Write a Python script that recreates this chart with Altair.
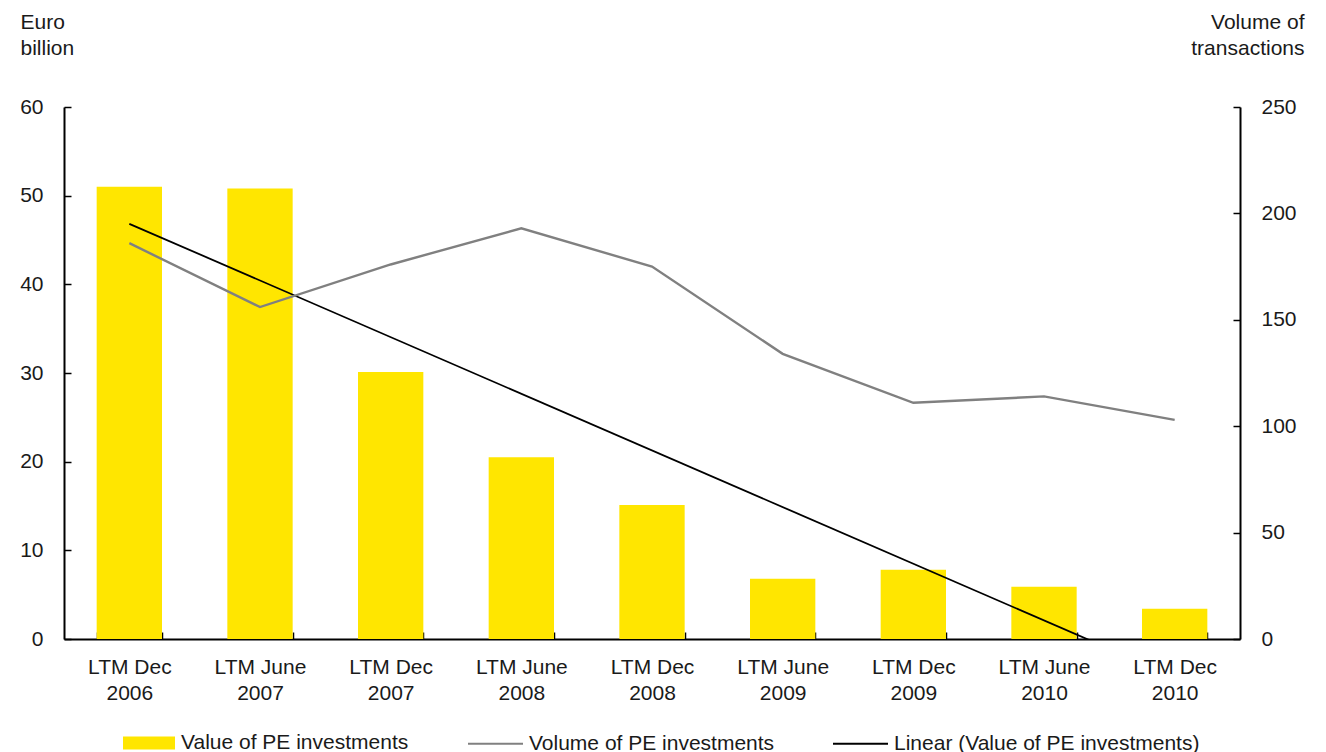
import altair as alt
import pandas as pd

# Reporting periods (last twelve months) and the two series
periods = [
    "LTM Dec 2006", "LTM June 2007", "LTM Dec 2007", "LTM June 2008",
    "LTM Dec 2008", "LTM June 2009", "LTM Dec 2009", "LTM June 2010",
    "LTM Dec 2010",
]
pe_value = [51.0, 50.8, 30.1, 20.5, 15.1, 6.8, 7.8, 5.9, 3.4]      # Euro billion
pe_volume = [186, 156, 176, 193, 175, 134, 111, 114, 103]          # transactions

bar_name = "Value of PE investments"
vol_name = "Volume of PE investments"
trend_name = "Linear (Value of PE investments)"

df = pd.DataFrame({
    "period": periods,
    "idx": list(range(len(periods))),
    "value": pe_value,
    "volume": pe_volume,
})

FONT = "Liberation Sans"
FS = 21
INK = "#1a1a1a"
W, H = 1176, 532
YELLOW = "#FFE600"
GREY = "#808080"

base = alt.Chart(df)
inward = alt.ExprRef(expr="-7")

# Columns: value of investments on the left axis
bars = base.transform_calculate(series=f"'{bar_name}'").mark_bar().encode(
    x=alt.X(
        "period:N", sort=periods,
        scale=alt.Scale(paddingInner=0.5, paddingOuter=0.25),
        axis=alt.Axis(
            title=None, labelAngle=0, tickBand="extent", tickSize=inward,
            labelExpr="[slice(datum.label, 0, -5), slice(datum.label, -4)]",
            labelLineHeight=26, labelPadding=24, labelBaseline="top",
        ),
    ),
    y=alt.Y(
        "value:Q", scale=alt.Scale(domain=[0, 60]),
        axis=alt.Axis(
            values=[0, 10, 20, 30, 40, 50, 60], tickSize=inward,
            labelPadding=28, grid=False,
            title=["Euro", "billion"], titleAngle=0, titleAlign="left",
            titleBaseline="top", titleX=-44, titleY=-96, titleLineHeight=26,
        ),
    ),
    fill=alt.Fill(
        "series:N",
        scale=alt.Scale(domain=[bar_name], range=[YELLOW]),
        legend=alt.Legend(
            title=None, orient="none", legendX=59, legendY=610,
            symbolType="M-1,-0.25H1V0.25H-1Z", symbolSize=2704,
            symbolStrokeWidth=0, symbolOpacity=1, labelOffset=6,
            labelLimit=400,
        ),
    ),
)

line_stroke = alt.Stroke(
    "series:N",
    scale=alt.Scale(domain=[vol_name, trend_name], range=[GREY, "#000000"]),
    legend=alt.Legend(
        title=None, orient="none", direction="horizontal",
        legendX=403, legendY=608, symbolType="stroke", symbolSize=3025,
        symbolStrokeWidth=2, labelOffset=5, columnPadding=54,
        labelLimit=500,
    ),
)
x_idx = alt.X("idx:Q", scale=alt.Scale(domain=[-0.5, 8.5], nice=False, zero=False), axis=None)

# Least-squares trend of the investment value, clipped at the axis floor
trend = (
    base.transform_regression("idx", "value", extent=[0, 8])
    .transform_calculate(series=f"'{trend_name}'")
    .mark_line(clip=True, strokeWidth=1.8)
    .encode(
        x=x_idx,
        y=alt.Y("value:Q", scale=alt.Scale(domain=[0, 60]), axis=None),
        stroke=line_stroke,
    )
)

# Number of transactions on the right axis
volume = (
    base.transform_calculate(series=f"'{vol_name}'")
    .mark_line(strokeWidth=2.4)
    .encode(
        x=x_idx,
        y=alt.Y(
            "volume:Q", scale=alt.Scale(domain=[0, 250]),
            axis=alt.Axis(
                orient="right", values=[0, 50, 100, 150, 200, 250],
                tickSize=inward, labelPadding=28, grid=False,
                title=["Volume of", "transactions"], titleAngle=0,
                titleAlign="right", titleBaseline="top", titleX=64,
                titleY=-96, titleLineHeight=26,
            ),
        ),
        stroke=line_stroke,
    )
)

chart = (
    alt.layer(bars, trend, volume)
    .resolve_scale(x="independent", y="independent")
    .properties(
        width=W, height=H,
        autosize=alt.AutoSizeParams(type="none"),
        padding={"left": 64, "top": 107, "right": 86, "bottom": 113},
    )
    .configure_view(stroke=None)
    .configure_axis(
        labelFont=FONT, labelFontSize=FS, labelColor=INK,
        titleFont=FONT, titleFontSize=FS, titleColor=INK, titleFontWeight="normal",
        domainColor="#000000", domainWidth=2, tickColor="#000000", tickWidth=1.5,
    )
    .configure_legend(labelFont=FONT, labelFontSize=FS, labelColor=INK)
)

chart.save("out.html", embed_options={"renderer": "svg", "actions": False})
